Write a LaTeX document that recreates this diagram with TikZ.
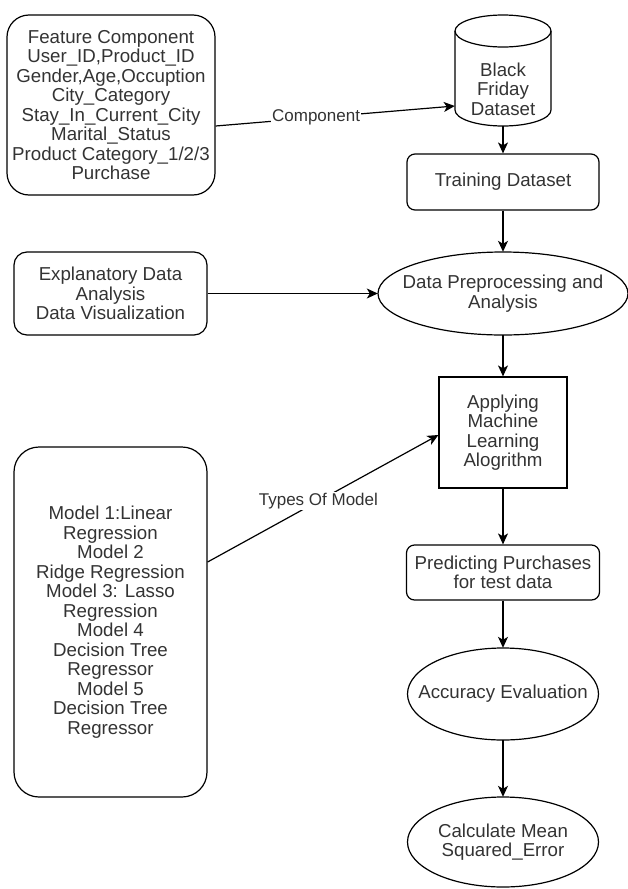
\documentclass[tikz,border=0pt]{standalone}
\usepackage{fontspec}
\setmainfont{Liberation Sans}
\usetikzlibrary{shapes.geometric,arrows.meta}
\newcommand{\nfont}{\fontsize{18.7}{19.5}\selectfont}
\newcommand{\lfont}{\fontsize{17}{19}\selectfont}
\tikzset{
  txt/.style={align=center, inner sep=0pt, font=\nfont, text=black!80},
  shp/.style={txt, draw=black, line width=1.2pt},
  rbox/.style={shp, rectangle, rounded corners=#1},
  sqbox/.style={shp, rectangle},
  outline/.style={line width=1.2pt, draw=black},
  conn/.style={line width=1.2pt, -{Stealth[length=11pt,width=10pt,inset=3pt]}},
  lbl/.style={fill=white, inner sep=1pt, font=\lfont, text=black!80}
}
\begin{document}
\begin{tikzpicture}[x=1pt,y=-1pt]
\useasboundingbox (0,0) rectangle (628,889);

% rounded and square boxes
\node[rbox=22pt, minimum width=208pt, minimum height=180pt] (feat) at (111,105)
 {Feature Component\\User\_ID,Product\_ID\\Gender,Age,Occuption\\City\_Category\\Stay\_In\_Current\_City\\Marital\_Status\\Product Category\_1/2/3\\Purchase};
\node[rbox=8pt, minimum width=192pt, minimum height=56pt] (train) at (503,182) {Training Dataset};
\node[rbox=13pt, minimum width=193pt, minimum height=83pt] (expl) at (110.5,293.5) {Explanatory Data\\Analysis\\Data Visualization};
\node[sqbox, minimum width=128pt, minimum height=111pt] (ml) at (503,432.5) {Applying\\Machine\\Learning\\Alogrithm};
\node[rbox=25pt, minimum width=193pt, minimum height=350pt] (models) at (110.5,622)
 {Model 1:Linear\\Regression\\Model 2\\Ridge Regression\\Model 3: Lasso\\Regression\\Model 4\\Decision Tree\\Regressor\\Model 5\\Decision Tree\\Regressor};
\node[rbox=8pt, minimum width=193pt, minimum height=55pt] (pred) at (503,572.5) {Predicting Purchases\\for test data};

% cylinder (drawn) with an invisible node for connections
\node[inner sep=0pt, minimum width=96pt, minimum height=111pt] (bf) at (503,70.5) {};
\draw[outline] (503,31) ellipse [x radius=48, y radius=16];
\draw[outline] (455,31) -- (455,110) .. controls (455,118.8) and (476.5,126) .. (503,126)
  .. controls (529.5,126) and (551,118.8) .. (551,110) -- (551,31);
\node[txt] (bftext) at (503,89) {Black\\Friday\\Dataset};

% ellipses: text nodes of the ellipse's size, outline drawn round them
\node[txt, minimum width=250pt, minimum height=83pt] (prep) at (503,293.5) {Data Preprocessing and\\Analysis};
\draw[outline] (prep.center) ellipse [x radius=125, y radius=41.5];
\node[txt, minimum width=191pt, minimum height=92pt] (acc) at (503,694) {Accuracy Evaluation};
\draw[outline] (acc.center) ellipse [x radius=95.5, y radius=46];
\node[txt, minimum width=191pt, minimum height=90pt] (mse) at (503,842) {Calculate Mean\\Squared\_Error};
\draw[outline] (mse.center) ellipse [x radius=95.5, y radius=45];

% connectors
\draw[conn] ([yshift=-21pt]feat.east) -- node[lbl, pos=0.42] {Component} ([yshift=-35.5pt]bf.west);
\draw[conn] (bf.south) -- (train.north);
\draw[conn] (train.south) -- (prep.north);
\draw[conn] (expl.east) -- (prep.west);
\draw[conn] (prep.south) -- (ml.north);
\draw[conn] ([yshift=60pt]models.east) -- node[lbl, pos=0.48] {Types Of Model} ([yshift=-2.5pt]ml.west);
\draw[conn] (ml.south) -- (pred.north);
\draw[conn] (pred.south) -- (acc.north);
\draw[conn] (acc.south) -- (mse.north);
\end{tikzpicture}
\end{document}
